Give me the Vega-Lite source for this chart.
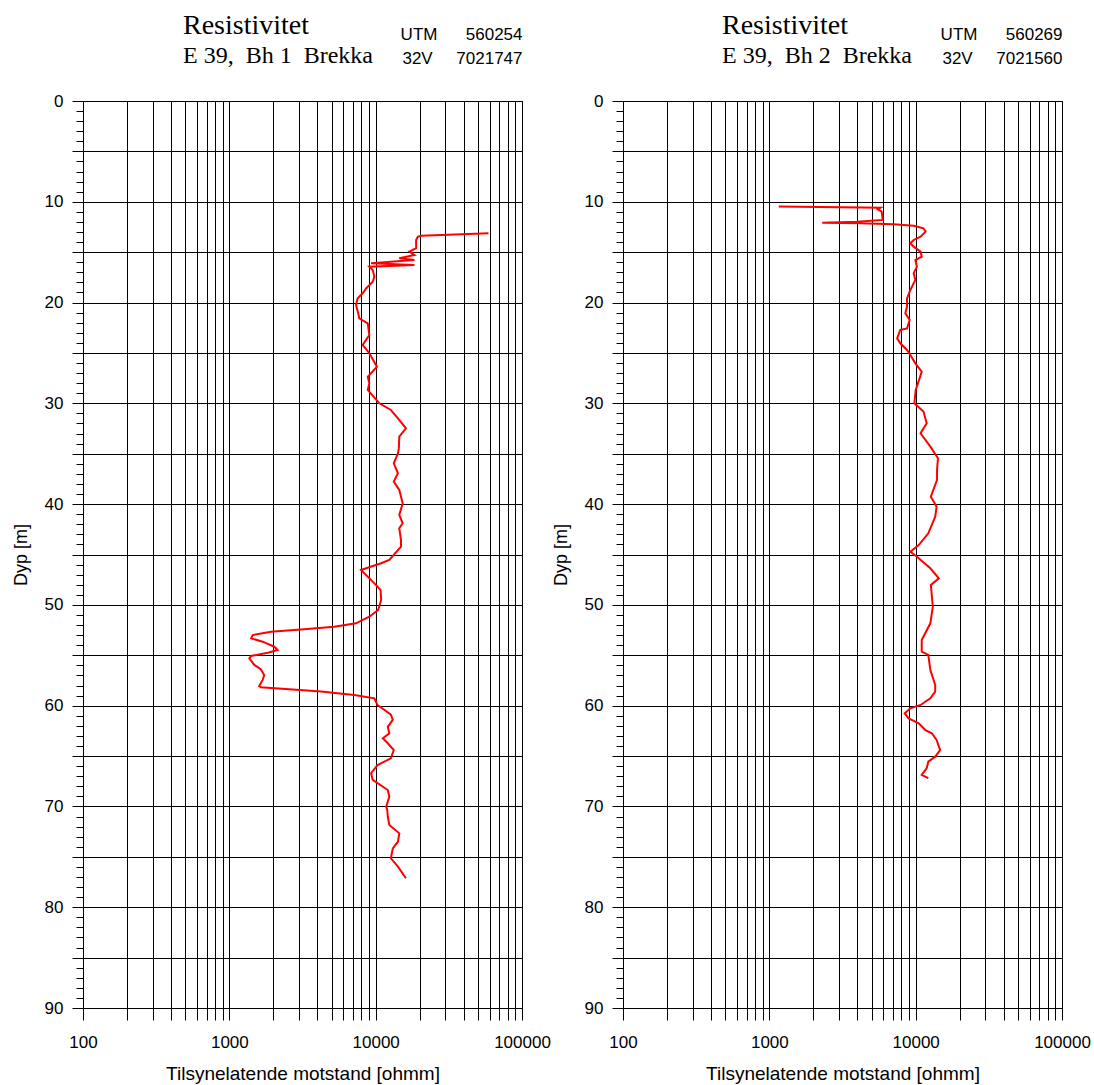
{
  "$schema": "https://vega.github.io/schema/vega-lite/v6.json",
  "background": "white",
  "padding": {"left": 11, "top": 11, "right": 5, "bottom": 5},
  "spacing": 0,
  "config": {
    "view": {"stroke": "black"},
    "axis": {
      "labelFont": "Liberation Sans", "labelFontSize": 17, "labelColor": "black",
      "titleFont": "Liberation Sans", "titleFontSize": 18, "titleFontWeight": "normal", "titleColor": "black",
      "tickColor": "black", "domainColor": "black", "gridColor": "black", "gridOpacity": 1, "gridWidth": 1
    },
    "title": {
      "font": "Liberation Serif", "fontSize": 28, "fontWeight": "normal", "color": "black",
      "subtitleFont": "Liberation Serif", "subtitleFontSize": 24, "subtitleColor": "black", "subtitlePadding": 4
    }
  },
  "datasets": {
    "bh1": [
      {"dyp": 13.13, "ohmm": 59000}, {"dyp": 13.37, "ohmm": 20400}, {"dyp": 13.47, "ohmm": 19400},
      {"dyp": 13.79, "ohmm": 18900}, {"dyp": 14.6, "ohmm": 18900}, {"dyp": 14.95, "ohmm": 17000},
      {"dyp": 15.28, "ohmm": 18400}, {"dyp": 15.6, "ohmm": 14500}, {"dyp": 15.78, "ohmm": 18400},
      {"dyp": 16.1, "ohmm": 9300}, {"dyp": 16.27, "ohmm": 18400}, {"dyp": 16.44, "ohmm": 9050},
      {"dyp": 16.77, "ohmm": 9550}, {"dyp": 17.43, "ohmm": 9800}, {"dyp": 17.93, "ohmm": 9550},
      {"dyp": 18.6, "ohmm": 8600}, {"dyp": 19.08, "ohmm": 8150}, {"dyp": 19.58, "ohmm": 7530},
      {"dyp": 20.24, "ohmm": 7340}, {"dyp": 21.07, "ohmm": 7600}, {"dyp": 21.56, "ohmm": 7720},
      {"dyp": 22.06, "ohmm": 8830}, {"dyp": 23.22, "ohmm": 9050}, {"dyp": 24.21, "ohmm": 8150},
      {"dyp": 25.03, "ohmm": 9050}, {"dyp": 26.36, "ohmm": 10200}, {"dyp": 27.36, "ohmm": 8830},
      {"dyp": 28.0, "ohmm": 9050}, {"dyp": 28.68, "ohmm": 8830}, {"dyp": 30.0, "ohmm": 10600},
      {"dyp": 30.66, "ohmm": 12700}, {"dyp": 31.49, "ohmm": 14200}, {"dyp": 32.48, "ohmm": 16100},
      {"dyp": 33.31, "ohmm": 14500}, {"dyp": 34.47, "ohmm": 14400}, {"dyp": 34.96, "ohmm": 14200},
      {"dyp": 35.95, "ohmm": 13300}, {"dyp": 36.94, "ohmm": 14200}, {"dyp": 37.77, "ohmm": 13300},
      {"dyp": 38.6, "ohmm": 14500}, {"dyp": 39.92, "ohmm": 15300}, {"dyp": 41.08, "ohmm": 14500},
      {"dyp": 41.9, "ohmm": 15300}, {"dyp": 42.4, "ohmm": 14500}, {"dyp": 43.56, "ohmm": 14900},
      {"dyp": 44.22, "ohmm": 14900}, {"dyp": 45.54, "ohmm": 12400}, {"dyp": 45.87, "ohmm": 10900},
      {"dyp": 46.54, "ohmm": 7940}, {"dyp": 47.86, "ohmm": 9800}, {"dyp": 48.52, "ohmm": 10800},
      {"dyp": 49.51, "ohmm": 10900}, {"dyp": 50.5, "ohmm": 10400}, {"dyp": 51.17, "ohmm": 9050},
      {"dyp": 51.83, "ohmm": 7340}, {"dyp": 52.16, "ohmm": 5210}, {"dyp": 52.42, "ohmm": 3250},
      {"dyp": 52.66, "ohmm": 1930}, {"dyp": 52.99, "ohmm": 1445}, {"dyp": 53.32, "ohmm": 1410},
      {"dyp": 53.65, "ohmm": 1690}, {"dyp": 54.15, "ohmm": 2030}, {"dyp": 54.48, "ohmm": 2140},
      {"dyp": 54.74, "ohmm": 1830}, {"dyp": 55.07, "ohmm": 1410}, {"dyp": 55.3, "ohmm": 1370},
      {"dyp": 55.96, "ohmm": 1480}, {"dyp": 56.39, "ohmm": 1640}, {"dyp": 56.96, "ohmm": 1730},
      {"dyp": 57.45, "ohmm": 1690}, {"dyp": 58.05, "ohmm": 1600}, {"dyp": 58.18, "ohmm": 1640},
      {"dyp": 58.6, "ohmm": 4230}, {"dyp": 58.94, "ohmm": 7140}, {"dyp": 59.27, "ohmm": 9800},
      {"dyp": 59.94, "ohmm": 10300}, {"dyp": 60.43, "ohmm": 11500}, {"dyp": 60.9, "ohmm": 12700},
      {"dyp": 61.4, "ohmm": 13100}, {"dyp": 62.1, "ohmm": 12100}, {"dyp": 62.74, "ohmm": 12400},
      {"dyp": 63.24, "ohmm": 11200}, {"dyp": 63.73, "ohmm": 12100}, {"dyp": 64.4, "ohmm": 13300},
      {"dyp": 65.22, "ohmm": 12700}, {"dyp": 65.89, "ohmm": 10300}, {"dyp": 66.7, "ohmm": 9300},
      {"dyp": 67.37, "ohmm": 9550}, {"dyp": 68.37, "ohmm": 12100}, {"dyp": 69.03, "ohmm": 12400},
      {"dyp": 70.02, "ohmm": 11800}, {"dyp": 70.35, "ohmm": 12000}, {"dyp": 71.0, "ohmm": 12100},
      {"dyp": 71.84, "ohmm": 12400}, {"dyp": 72.67, "ohmm": 14500}, {"dyp": 73.5, "ohmm": 14200},
      {"dyp": 74.16, "ohmm": 13100}, {"dyp": 75.15, "ohmm": 12700}, {"dyp": 75.98, "ohmm": 14200},
      {"dyp": 77.13, "ohmm": 16100}
    ],
    "bh2": [
      {"dyp": 10.48, "ohmm": 1160}, {"dyp": 10.59, "ohmm": 5740}, {"dyp": 10.75, "ohmm": 5500},
      {"dyp": 10.98, "ohmm": 5850}, {"dyp": 11.8, "ohmm": 5960}, {"dyp": 11.97, "ohmm": 3980},
      {"dyp": 12.07, "ohmm": 2300}, {"dyp": 12.14, "ohmm": 4200}, {"dyp": 12.24, "ohmm": 7080},
      {"dyp": 12.37, "ohmm": 9690}, {"dyp": 12.63, "ohmm": 11300}, {"dyp": 12.97, "ohmm": 11700},
      {"dyp": 13.46, "ohmm": 10800}, {"dyp": 13.79, "ohmm": 9690}, {"dyp": 14.12, "ohmm": 9200},
      {"dyp": 14.45, "ohmm": 9690}, {"dyp": 14.95, "ohmm": 10800}, {"dyp": 15.45, "ohmm": 11000},
      {"dyp": 15.78, "ohmm": 9950}, {"dyp": 16.44, "ohmm": 10200}, {"dyp": 17.1, "ohmm": 9690},
      {"dyp": 17.76, "ohmm": 9950}, {"dyp": 18.75, "ohmm": 9200}, {"dyp": 19.58, "ohmm": 8730},
      {"dyp": 20.4, "ohmm": 8730}, {"dyp": 21.07, "ohmm": 8500}, {"dyp": 21.73, "ohmm": 9100},
      {"dyp": 22.56, "ohmm": 8730}, {"dyp": 22.72, "ohmm": 7850}, {"dyp": 23.55, "ohmm": 7470},
      {"dyp": 24.04, "ohmm": 7850}, {"dyp": 24.7, "ohmm": 8730}, {"dyp": 25.2, "ohmm": 9200},
      {"dyp": 26.03, "ohmm": 9950}, {"dyp": 26.86, "ohmm": 11000}, {"dyp": 27.5, "ohmm": 10650},
      {"dyp": 28.7, "ohmm": 10000}, {"dyp": 30.0, "ohmm": 9800}, {"dyp": 30.82, "ohmm": 11300},
      {"dyp": 31.98, "ohmm": 11900}, {"dyp": 32.97, "ohmm": 10800}, {"dyp": 34.3, "ohmm": 12600},
      {"dyp": 35.45, "ohmm": 14200}, {"dyp": 36.61, "ohmm": 14000}, {"dyp": 37.6, "ohmm": 14000},
      {"dyp": 39.26, "ohmm": 12700}, {"dyp": 40.26, "ohmm": 13900}, {"dyp": 41.25, "ohmm": 13600},
      {"dyp": 42.9, "ohmm": 12200}, {"dyp": 44.06, "ohmm": 10500}, {"dyp": 44.72, "ohmm": 9200},
      {"dyp": 45.22, "ohmm": 10200}, {"dyp": 46.37, "ohmm": 12600}, {"dyp": 47.36, "ohmm": 14400},
      {"dyp": 48.03, "ohmm": 12700}, {"dyp": 50.18, "ohmm": 13100}, {"dyp": 51.83, "ohmm": 12600},
      {"dyp": 53.48, "ohmm": 11000}, {"dyp": 54.64, "ohmm": 11000}, {"dyp": 54.97, "ohmm": 12200},
      {"dyp": 56.46, "ohmm": 12600}, {"dyp": 57.95, "ohmm": 13600}, {"dyp": 58.6, "ohmm": 13600},
      {"dyp": 59.27, "ohmm": 12600}, {"dyp": 59.93, "ohmm": 10800}, {"dyp": 60.26, "ohmm": 9200},
      {"dyp": 60.76, "ohmm": 8410}, {"dyp": 61.26, "ohmm": 8950}, {"dyp": 61.76, "ohmm": 10500},
      {"dyp": 62.42, "ohmm": 11650}, {"dyp": 62.74, "ohmm": 12900}, {"dyp": 63.4, "ohmm": 13900},
      {"dyp": 64.4, "ohmm": 14700}, {"dyp": 65.06, "ohmm": 13600}, {"dyp": 65.56, "ohmm": 12200},
      {"dyp": 66.2, "ohmm": 11900}, {"dyp": 66.87, "ohmm": 11000}, {"dyp": 67.2, "ohmm": 12200}
    ]
  },
  "hconcat": [
    {
      "width": 439, "height": 907,
      "title": {"text": "Resistivitet", "subtitle": "E 39,\u00a0 Bh 1\u00a0 Brekka", "anchor": "start", "frame": "group", "dx": 100, "dy": 47},
      "data": {"name": "bh1"},
      "layer": [
        {
          "mark": {"type": "line", "color": "#ff0000", "strokeWidth": 2},
          "encoding": {
            "x": {"field": "ohmm", "type": "quantitative",
              "scale": {"type": "log", "domain": [100, 100000], "nice": false},
              "axis": {"orient": "bottom", "values": [100,200,300,400,500,600,700,800,900,1000,2000,3000,4000,5000,6000,7000,8000,9000,10000,20000,30000,40000,50000,60000,70000,80000,90000,100000],
                "format": "d", "labelExpr": "(datum.value==100||datum.value==1000||datum.value==10000||datum.value==100000) ? datum.label : ''",
                "labelOverlap": false, "labelFlush": false, "labelBound": false,
                "tickSize": 12, "grid": true, "labelPadding": 14, "title": "Tilsynelatende motstand [ohmm]", "titleFontSize": 19, "titlePadding": 14}},
            "y": {"field": "dyp", "type": "quantitative",
              "scale": {"domain": [0, 90], "reverse": true, "nice": false, "zero": false},
              "axis": {"orient": "left", "values": [0,5,10,15,20,25,30,35,40,45,50,55,60,65,70,75,80,85,90],
                "labelExpr": "datum.value % 10 == 0 ? datum.label : ''", "labelOverlap": false, "labelFlush": false,
                "tickSize": 11, "grid": true, "labelPadding": 9, "title": "Dyp [m]", "titlePadding": 14}},
            "order": {"field": "dyp"}
          }
        },
        {
          "mark": {"type": "line", "opacity": 0},
          "encoding": {
            "x": {"field": "ohmm", "type": "quantitative",
              "axis": {"orient": "top", "labels": false, "ticks": false, "domain": false, "grid": false,
                "title": ["UTM\u00a0\u00a0\u00a0\u00a0\u00a0\u00a0560254", "32V\u00a0\u00a0\u00a0\u00a0\u00a07021747"],
                "titleFontSize": 17, "titleAnchor": "end", "titleAlign": "right", "titleLineHeight": 24, "titlePadding": 34}},
            "y": {"field": "dyp", "type": "quantitative",
              "axis": {"orient": "left", "values": [0,1,2,3,4,5,6,7,8,9,10,11,12,13,14,15,16,17,18,19,20,21,22,23,24,25,26,27,28,29,30,31,32,33,34,35,36,37,38,39,40,41,42,43,44,45,46,47,48,49,50,51,52,53,54,55,56,57,58,59,60,61,62,63,64,65,66,67,68,69,70,71,72,73,74,75,76,77,78,79,80,81,82,83,84,85,86,87,88,89,90],
                "labels": false, "domain": false, "grid": false, "title": null, "tickSize": 7}},
            "order": {"field": "dyp"}
          }
        }
      ],
      "resolve": {"axis": {"x": "independent", "y": "independent"}}
    },
    {
      "width": 439, "height": 907,
      "title": {"text": "Resistivitet", "subtitle": "E 39,\u00a0 Bh 2\u00a0 Brekka", "anchor": "start", "frame": "group", "dx": 99, "dy": 47},
      "data": {"name": "bh2"},
      "layer": [
        {
          "mark": {"type": "line", "color": "#ff0000", "strokeWidth": 2},
          "encoding": {
            "x": {"field": "ohmm", "type": "quantitative",
              "scale": {"type": "log", "domain": [100, 100000], "nice": false},
              "axis": {"orient": "bottom", "values": [100,200,300,400,500,600,700,800,900,1000,2000,3000,4000,5000,6000,7000,8000,9000,10000,20000,30000,40000,50000,60000,70000,80000,90000,100000],
                "format": "d", "labelExpr": "(datum.value==100||datum.value==1000||datum.value==10000||datum.value==100000) ? datum.label : ''",
                "labelOverlap": false, "labelFlush": false, "labelBound": false,
                "tickSize": 12, "grid": true, "labelPadding": 14, "title": "Tilsynelatende motstand [ohmm]", "titleFontSize": 19, "titlePadding": 14}},
            "y": {"field": "dyp", "type": "quantitative",
              "scale": {"domain": [0, 90], "reverse": true, "nice": false, "zero": false},
              "axis": {"orient": "left", "values": [0,5,10,15,20,25,30,35,40,45,50,55,60,65,70,75,80,85,90],
                "labelExpr": "datum.value % 10 == 0 ? datum.label : ''", "labelOverlap": false, "labelFlush": false,
                "tickSize": 11, "grid": true, "labelPadding": 9, "title": "Dyp [m]", "titlePadding": 14}},
            "order": {"field": "dyp"}
          }
        },
        {
          "mark": {"type": "line", "opacity": 0},
          "encoding": {
            "x": {"field": "ohmm", "type": "quantitative",
              "axis": {"orient": "top", "labels": false, "ticks": false, "domain": false, "grid": false,
                "title": ["UTM\u00a0\u00a0\u00a0\u00a0\u00a0\u00a0560269", "32V\u00a0\u00a0\u00a0\u00a0\u00a07021560"],
                "titleFontSize": 17, "titleAnchor": "end", "titleAlign": "right", "titleLineHeight": 24, "titlePadding": 34}},
            "y": {"field": "dyp", "type": "quantitative",
              "axis": {"orient": "left", "values": [0,1,2,3,4,5,6,7,8,9,10,11,12,13,14,15,16,17,18,19,20,21,22,23,24,25,26,27,28,29,30,31,32,33,34,35,36,37,38,39,40,41,42,43,44,45,46,47,48,49,50,51,52,53,54,55,56,57,58,59,60,61,62,63,64,65,66,67,68,69,70,71,72,73,74,75,76,77,78,79,80,81,82,83,84,85,86,87,88,89,90],
                "labels": false, "domain": false, "grid": false, "title": null, "tickSize": 7}},
            "order": {"field": "dyp"}
          }
        }
      ],
      "resolve": {"axis": {"x": "independent", "y": "independent"}}
    }
  ]
}
